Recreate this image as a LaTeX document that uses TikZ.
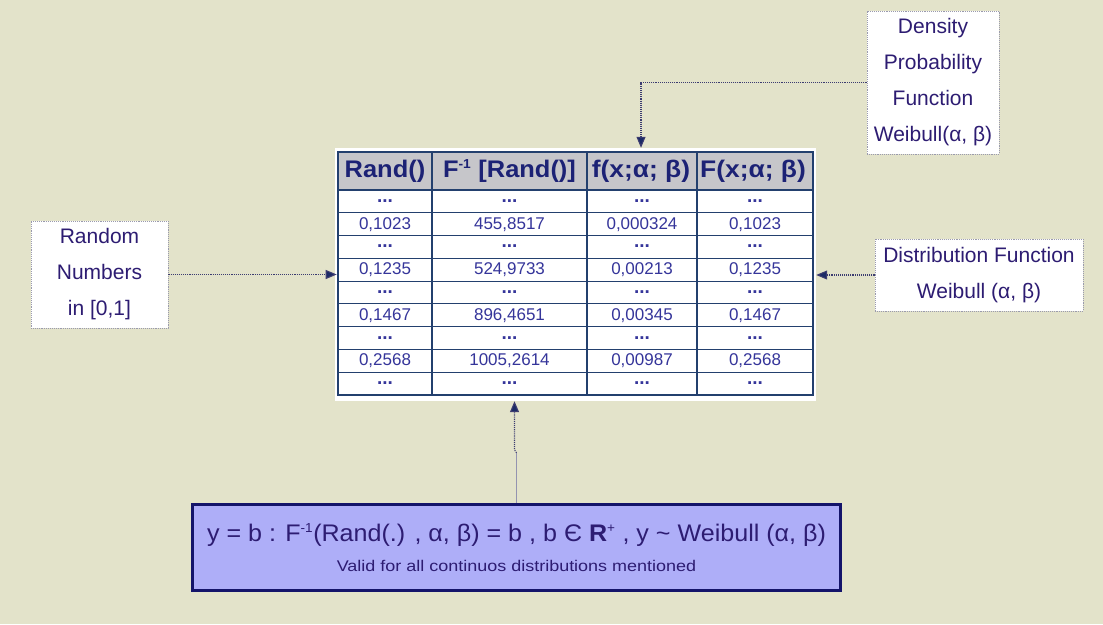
\documentclass[tikz,border=0pt]{standalone}
\usepackage{fontspec}
\setmainfont{Liberation Sans}
\newfontfamily\widesans[FakeStretch=1.06]{Liberation Sans}
\newfontfamily\formsans[FakeStretch=1.045]{Liberation Sans}
\newfontfamily\greeksans[FakeStretch=1.1]{Liberation Sans}
\newfontfamily\notesans[FakeStretch=1.16]{Liberation Sans}
\usetikzlibrary{arrows.meta}
\definecolor{bg}{HTML}{E3E3CA}
\definecolor{navy}{HTML}{1B2A66}
\definecolor{gridline}{HTML}{23406E}
\definecolor{hdrfill}{HTML}{C6C6CA}
\definecolor{hdrtext}{HTML}{1C2275}
\definecolor{celltext}{HTML}{35359A}
\definecolor{boxtext}{HTML}{2D1C72}
\definecolor{boxborder}{HTML}{9A9AAE}
\definecolor{formfill}{HTML}{AEAEF8}
\definecolor{formborder}{HTML}{14146A}
\definecolor{linkcol}{HTML}{3C3C70}
\tikzset{
  labelbox/.style={draw=boxborder, densely dotted, line width=0.9pt, fill=white,
    text=boxtext, align=center, inner sep=0pt,
    font=\fontsize{21}{36}\selectfont},
  hcell/.style={inner sep=0pt, minimum height=38pt, text=hdrtext,
    font=\widesans\fontsize{24}{26}\selectfont\bfseries},
  gcell/.style={hcell, font=\greeksans\fontsize{24}{26}\selectfont\bfseries},
  dcell/.style={inner sep=0pt, text=celltext, font=\fontsize{17}{19}\selectfont},
  dots/.style={inner sep=0pt, text=celltext, font=\fontsize{19}{20}\selectfont\bfseries},
  link/.style={draw=linkcol, densely dotted, line width=1.1pt,
    -{Triangle[length=11pt,width=9pt,fill=navy]}},
  stem/.style={draw=linkcol!55, line width=1.6pt},
  formbox/.style={draw=formborder, line width=3.5pt, fill=formfill, text=boxtext,
    align=center, minimum width=648pt, minimum height=86pt, inner sep=0pt}
}
\begin{document}
\begin{tikzpicture}[x=1pt,y=-1pt]
\fill[bg] (0,0) rectangle (1103,624);
\useasboundingbox (0,0) rectangle (1103,624);

% white sheet behind the table
\node[fill=white, minimum width=481pt, minimum height=253pt, inner sep=0pt] (sheet) at (575.5,274.5) {};
% header band
\fill[hdrfill] (338,152) rectangle (813,190);

% column rules
\foreach \cx in {432,587,697} \draw[gridline, line width=1.4pt] (\cx,152) -- (\cx,395);
% row rules
\draw[gridline, line width=1.4pt] (338,190) -- (813,190);
\foreach \r in {1,...,8} \draw[gridline, line width=1.1pt] (338,190+22.78*\r) -- (813,190+22.78*\r);
% table frame
\node[draw=gridline, line width=2.6pt, minimum width=475pt, minimum height=243pt, inner sep=0pt] (tbl) at (575.5,273.5) {};

% header cells
\node[hcell, minimum width=94pt]  (h1) at (385,171)   {Rand()};
\node[hcell, minimum width=155pt] (h2) at (509.5,171) {F\textsuperscript{\fontsize{13}{13}\selectfont -1} [Rand()]};
\node[gcell, minimum width=110pt] (h3) at (641,171)   {f(x;α; β)};
\node[gcell, minimum width=116pt] (h4) at (753,171)   {F(x;α; β)};

% body cells
\foreach \r/\a/\b/\c/\d in {1/0{,}1023/455{,}8517/0{,}000324/0{,}1023,
                             3/0{,}1235/524{,}9733/0{,}00213/0{,}1235,
                             5/0{,}1467/896{,}4651/0{,}00345/0{,}1467,
                             7/0{,}2568/1005{,}2614/0{,}00987/0{,}2568}{
  \node[dcell] (d\r a) at (385,190+22.78*\r+11.39)   {\a};
  \node[dcell] (d\r b) at (509.5,190+22.78*\r+11.39) {\b};
  \node[dcell] (d\r c) at (642,190+22.78*\r+11.39)   {\c};
  \node[dcell] (d\r d) at (755,190+22.78*\r+11.39)   {\d};
}
\foreach \r in {0,2,4,6,8}{
  \node[dots] (e\r a) at (385,190+22.78*\r+11)   {...};
  \node[dots] (e\r b) at (509.5,190+22.78*\r+11) {...};
  \node[dots] (e\r c) at (642,190+22.78*\r+11)   {...};
  \node[dots] (e\r d) at (755,190+22.78*\r+11)   {...};
}

% side boxes
\node[labelbox, minimum width=132pt, minimum height=143pt] (dens) at (933,82.5)
  {Density\\Probability\\Function\\Weibull(α, β)};
\node[labelbox, minimum width=137pt, minimum height=107pt] (rnd) at (99.5,274.5)
  {Random\\Numbers\\in [0,1]};
\node[labelbox, minimum width=208pt, minimum height=72pt] (dist) at (979,275)
  {Distribution Function\\Weibull (α, β)};

% formula box
\node[formbox] (form) at (516.5,547.5)
  {\formsans\fontsize{24}{28}\selectfont y = b : F\textsuperscript{\fontsize{13}{13}\selectfont -1}(Rand(.) , α, β) = b , b Є \textbf{R}\textsuperscript{\fontsize{13}{13}\selectfont +} , y \textasciitilde{} Weibull (α, β)\\[13pt]
   \notesans\fontsize{15.5}{17}\selectfont Valid for all continuos distributions mentioned};

% connectors
\draw[link] (dens.west) -| (h3.north |- sheet.north);
\draw[link] (rnd.east) -- (rnd.east -| tbl.west);
\draw[link] (dist.west) -- (dist.west -| sheet.east);
\draw[stem] (form.north) -- ++(0,-50) coordinate (bend);
\draw[link] (bend) -- ++(-2,-3) coordinate (kink) -- (kink |- sheet.south);
\end{tikzpicture}
\end{document}
